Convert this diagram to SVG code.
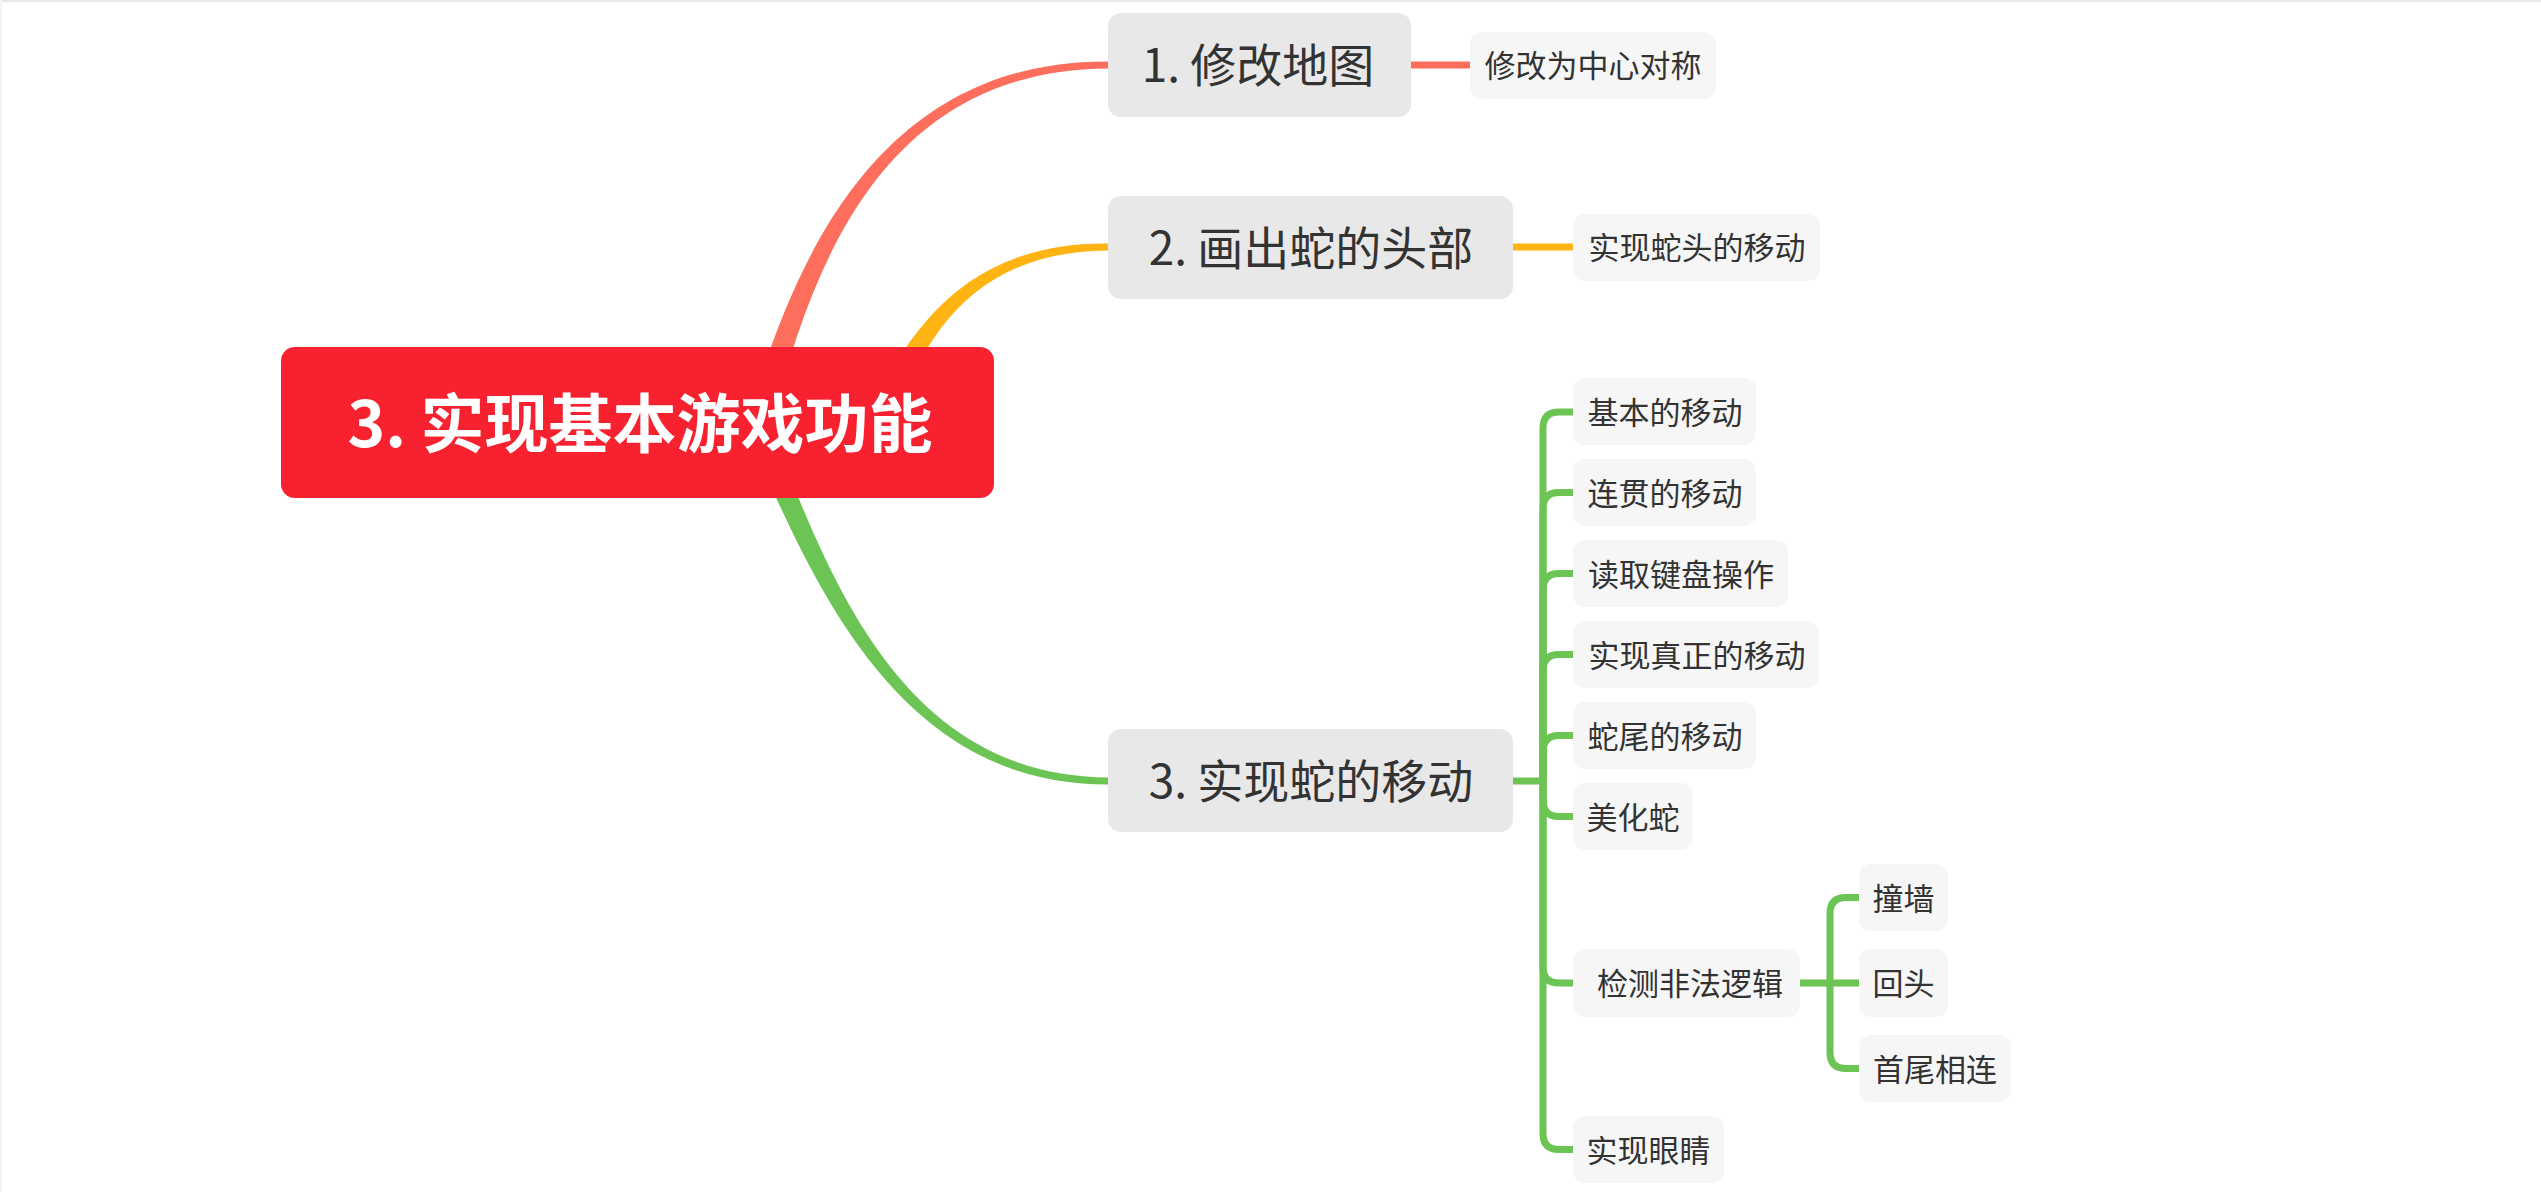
<svg xmlns="http://www.w3.org/2000/svg" width="2541" height="1192" viewBox="0 0 2541 1192">
<style>
text{font-family:"Noto Sans CJK SC","Noto Sans",sans-serif;fill:#333333;text-anchor:middle}
.root{fill:#F8212F}
.rootT{fill:#FFFFFF;font-weight:700;font-size:64px}
.main{fill:#E8E8E8}
.mainT{font-size:46px}
.sub{fill:#F6F6F6}
.subT{font-size:31px}
.g{fill:none;stroke:#6CC455;stroke-width:7;stroke-linecap:butt}
</style>
<rect x="0" y="0" width="2541" height="1192" fill="#FFFFFF"/>
<rect x="0" y="0" width="2541" height="2" fill="#E8E8E8"/>
<rect x="0" y="0" width="2" height="1192" fill="#F4F4F4"/>
<g id="connectors">
  <path d="M771.6 425 C818.3 233.3 901.5 69.75 1108 68.5 L1108 61.5 C898.5 60.25 801.7 226.7 748.4 419 Z" fill="#FD6E5C"/>
  <path d="M891.2 426.4 C927.7 324.5 981.5 251.75 1108 250.5 L1108 243.5 C978.5 242.25 912.3 315.5 868.8 417.6 Z" fill="#FFB413"/>
  <path d="M766 417.2 C823.4 556.8 891.5 776.25 1108 777.5 L1108 784.5 C888.5 785.75 806.6 563.2 744 426.8 Z" fill="#6CC455"/>
  <path d="M1411 65 H1470" fill="none" stroke="#FD6E5C" stroke-width="7"/>
  <path d="M1513 247 H1573" fill="none" stroke="#FFB413" stroke-width="7"/>
  <path class="g" d="M1513 781 H1543"/>
  <path class="g" d="M1543 781 V428 Q1543 412 1559 412 H1573"/>
  <path class="g" d="M1543 781 V508.5 Q1543 492.5 1559 492.5 H1573"/>
  <path class="g" d="M1543 781 V589.5 Q1543 573.5 1559 573.5 H1573"/>
  <path class="g" d="M1543 781 V670.5 Q1543 654.5 1559 654.5 H1573"/>
  <path class="g" d="M1543 781 V751.5 Q1543 735.5 1559 735.5 H1573"/>
  <path class="g" d="M1543 781 V800.5 Q1543 816.5 1559 816.5 H1573"/>
  <path class="g" d="M1543 781 V967 Q1543 983 1559 983 H1573"/>
  <path class="g" d="M1543 781 V1133.5 Q1543 1149.5 1559 1149.5 H1573"/>
  <path class="g" d="M1800 983 H1859"/>
  <path class="g" d="M1830 983 V913.5 Q1830 897.5 1846 897.5 H1859"/>
  <path class="g" d="M1830 983 V1052.5 Q1830 1068.5 1846 1068.5 H1859"/>
</g>
<g id="root">
  <rect class="root" x="281" y="347" width="713" height="151" rx="14"/>
  <text class="rootT" x="640" y="447">3. 实现基本游戏功能</text>
</g>
<g id="n1">
  <rect class="main" x="1108" y="13" width="303" height="104" rx="13"/>
  <text class="mainT" x="1258" y="82">1. 修改地图</text>
</g>
<g id="n1a">
  <rect class="sub" x="1470" y="32" width="246" height="67" rx="12"/>
  <text class="subT" x="1593" y="77">修改为中心对称</text>
</g>
<g id="n2">
  <rect class="main" x="1108" y="196" width="405" height="103" rx="13"/>
  <text class="mainT" x="1311" y="265">2. 画出蛇的头部</text>
</g>
<g id="n2a">
  <rect class="sub" x="1573" y="214" width="247" height="67" rx="12"/>
  <text class="subT" x="1697" y="259">实现蛇头的移动</text>
</g>
<g id="n3">
  <rect class="main" x="1108" y="729" width="405" height="103" rx="13"/>
  <text class="mainT" x="1311" y="798">3. 实现蛇的移动</text>
</g>
<g id="n3a">
  <rect class="sub" x="1573" y="378" width="183" height="67" rx="12"/>
  <text class="subT" x="1665" y="423.5">基本的移动</text>
</g>
<g id="n3b">
  <rect class="sub" x="1573" y="459" width="183" height="67" rx="12"/>
  <text class="subT" x="1665" y="504.5">连贯的移动</text>
</g>
<g id="n3c">
  <rect class="sub" x="1573" y="540" width="215" height="67" rx="12"/>
  <text class="subT" x="1681" y="585.5">读取键盘操作</text>
</g>
<g id="n3d">
  <rect class="sub" x="1573" y="621" width="246" height="67" rx="12"/>
  <text class="subT" x="1697" y="666.5">实现真正的移动</text>
</g>
<g id="n3e">
  <rect class="sub" x="1573" y="702" width="183" height="67" rx="12"/>
  <text class="subT" x="1665" y="747.5">蛇尾的移动</text>
</g>
<g id="n3f">
  <rect class="sub" x="1573" y="783" width="120" height="67" rx="12"/>
  <text class="subT" x="1633" y="828.5">美化蛇</text>
</g>
<g id="n3g">
  <rect class="sub" x="1573" y="949" width="227" height="68" rx="12"/>
  <text class="subT" x="1690" y="995">检测非法逻辑</text>
</g>
<g id="n3g1">
  <rect class="sub" x="1859" y="864" width="89" height="67" rx="12"/>
  <text class="subT" x="1903.5" y="909.5">撞墙</text>
</g>
<g id="n3g2">
  <rect class="sub" x="1859" y="949" width="89" height="68" rx="12"/>
  <text class="subT" x="1903.5" y="995">回头</text>
</g>
<g id="n3g3">
  <rect class="sub" x="1859" y="1035" width="152" height="67" rx="12"/>
  <text class="subT" x="1935" y="1080.5">首尾相连</text>
</g>
<g id="n3h">
  <rect class="sub" x="1573" y="1116" width="151" height="67" rx="12"/>
  <text class="subT" x="1648.5" y="1161.5">实现眼睛</text>
</g>
</svg>
